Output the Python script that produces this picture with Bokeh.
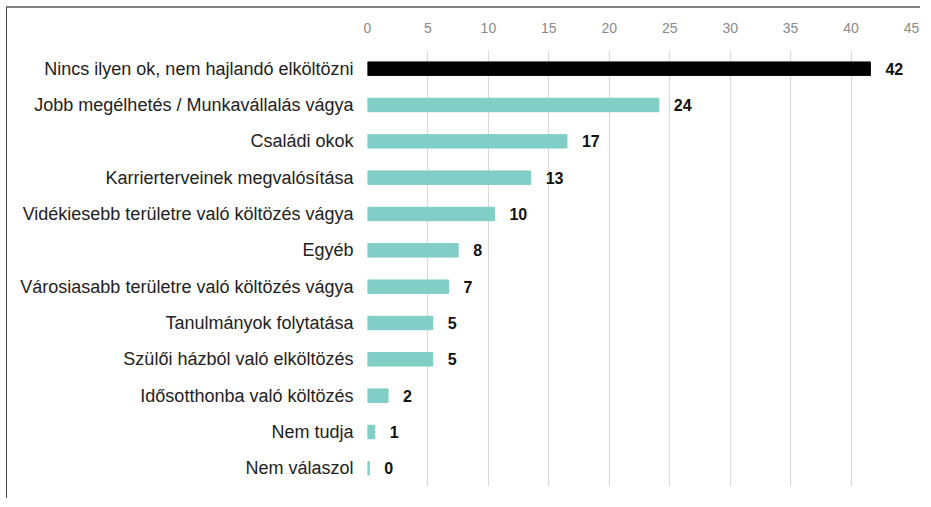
from bokeh.plotting import figure
from bokeh.models import ColumnDataSource, FactorRange, Range1d, FixedTicker
from bokeh.core.properties import value
from bokeh.embed import file_html
from bokeh.resources import INLINE

categories = [
    "Nincs ilyen ok, nem hajlandó elköltözni",
    "Jobb megélhetés / Munkavállalás vágya",
    "Családi okok",
    "Karrierterveinek megvalósítása",
    "Vidékiesebb területre való költözés vágya",
    "Egyéb",
    "Városiasabb területre való költözés vágya",
    "Tanulmányok folytatása",
    "Szülői házból való elköltözés",
    "Idősotthonba való költözés",
    "Nem tudja",
    "Nem válaszol",
]
values = [41.6, 24.1, 16.5, 13.5, 10.5, 7.5, 6.7, 5.4, 5.4, 1.7, 0.6, 0.15]
labels = ["42", "24", "17", "13", "10", "8", "7", "5", "5", "2", "1", "0"]
colors = ["#000000"] + ["#80cec6"] * 11
ticks = [0, 5, 10, 15, 20, 25, 30, 35, 40, 45]

source = ColumnDataSource(dict(cat=categories, val=values, lab=labels, col=colors))

p = figure(
    width=914, height=492,
    y_range=FactorRange(factors=categories[::-1], range_padding=0),
    x_range=Range1d(0, 45),
    x_axis_location="above",
    output_backend="svg", toolbar_location=None,
    min_border_left=360, min_border_top=42, min_border_right=10, min_border_bottom=14,
)
p.styles = {"border-top": "2px solid #808080", "border-left": "1px solid #444444",
            "margin": "6px 0px 0px 6px"}

p.hbar(y="cat", right="val", left=0, height=0.37, color="col", source=source)
p.text(x="val", y="cat", text="lab", source=source, x_offset=15,
       text_align="left", text_baseline="middle",
       text_font=value("Liberation Sans"), text_font_style="bold",
       text_font_size="16px", text_color="#111111")

p.outline_line_color = None
p.ygrid.grid_line_color = None
p.xgrid.grid_line_color = "#d9d9d9"
p.xgrid.grid_line_width = 1.2
p.xgrid.ticker = FixedTicker(ticks=ticks)

xa = p.xaxis[0]
xa.ticker = FixedTicker(ticks=ticks)
xa.axis_line_color = None
xa.major_tick_line_color = None
xa.minor_tick_line_color = None
xa.major_label_text_font = "Liberation Sans"
xa.major_label_text_font_size = "14px"
xa.major_label_text_color = "#8a8a8a"
xa.major_label_standoff = 12

ya = p.yaxis[0]
ya.axis_line_color = None
ya.major_tick_line_color = None
ya.minor_tick_line_color = None
ya.major_label_text_font = "Liberation Sans"
ya.major_label_text_font_size = "18px"
ya.major_label_text_color = "#222222"
ya.major_label_standoff = 8

open("out.html", "w").write(file_html(p, INLINE))
